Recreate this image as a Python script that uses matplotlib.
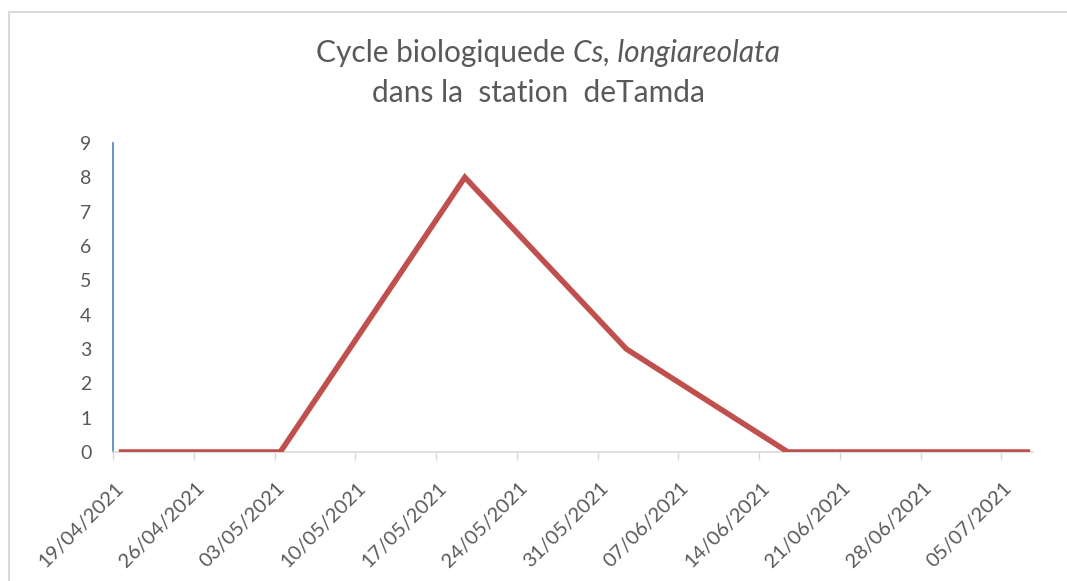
import matplotlib
matplotlib.use("Agg")
import matplotlib.pyplot as plt
import matplotlib.dates as mdates
from matplotlib.transforms import ScaledTranslation
from matplotlib.patches import Rectangle
from datetime import datetime

# ---- data ----
dates = ["19/04/2021", "03/05/2021", "19/05/2021", "02/06/2021", "16/06/2021", "07/07/2021"]
values = [0, 0, 8, 3, 0, 0]
tick_labels = ["19/04/2021", "26/04/2021", "03/05/2021", "10/05/2021", "17/05/2021", "24/05/2021",
               "31/05/2021", "07/06/2021", "14/06/2021", "21/06/2021", "28/06/2021", "05/07/2021"]
y_ticks = [0, 1, 2, 3, 4, 5, 6, 7, 8, 9]
title_normal = "Cycle biologiquede "
title_italic = "Cs, longiareolata"
title_line2 = "dans la  station  deTamda"

plt.rcParams['font.family'] = ['Lato', 'DejaVu Sans']
TXT = "#595959"

fig = plt.figure(figsize=(10.67, 5.81), dpi=100)
ax = fig.add_axes([113/1067, (581-452)/581, (1033-113)/1067, (452-143)/581])

parse = lambda s: datetime.strptime(s, "%d/%m/%Y")
x = [mdates.date2num(parse(d)) + 0.5 for d in dates]  # Excel centres points in the day
ax.plot(x, values, color="#C0504D", lw=4.0, solid_capstyle="butt", solid_joinstyle="miter", zorder=3)

ticks = [mdates.date2num(parse(t)) for t in tick_labels]
ax.set_xticks(ticks)
ax.set_xticklabels([])
lab_tr = ax.get_xaxis_transform() + ScaledTranslation(0.08, -0.33, fig.dpi_scale_trans)
for t, lab in zip(ticks, tick_labels):
    ax.text(t, 0, lab, transform=lab_tr, rotation=45, ha="right", va="center",
            rotation_mode="anchor", fontsize=14.5, color=TXT, clip_on=False)
ax.set_xlim(mdates.date2num(parse("19/04/2021")), mdates.date2num(parse("07/07/2021")) + 0.75)
ax.set_ylim(0, 9)
ax.set_yticks(y_ticks)
ax.set_yticklabels([str(v) for v in y_ticks], fontsize=14, color=TXT)
ax.tick_params(axis="y", length=0, pad=15.5)
ax.tick_params(axis="x", length=6, width=1, color="#D9D9D9", pad=2)

for s in ["top", "right"]:
    ax.spines[s].set_visible(False)
ax.spines["left"].set_color("#4F81BD")
ax.spines["left"].set_linewidth(1.2)
ax.spines["bottom"].set_color("#D9D9D9")
ax.spines["bottom"].set_linewidth(1.2)

# chart border
fig.patches.append(Rectangle((8.5/1067, -0.05), 1.1, (581-11.5)/581 + 0.05, transform=fig.transFigure,
                             fill=False, edgecolor="#D9D9D9", lw=1.5))

# title with mixed italic
fig.canvas.draw()
r = fig.canvas.get_renderer()
ty1 = 1 - 53/581
t1 = fig.text(0, ty1, title_normal, fontsize=21.5, color=TXT, va="center", ha="left")
t2 = fig.text(0, ty1, title_italic, fontsize=21.5, color=TXT, va="center", ha="left", style="italic")
w1 = t1.get_window_extent(r).width
w2 = t2.get_window_extent(r).width
total = w1 + w2
x0 = (548 - total / 2) / 1067
t1.set_x(x0)
t2.set_x(x0 + w1 / 1067)
fig.text(539/1067, 1 - 93/581, title_line2, fontsize=21.5, color=TXT, va="center", ha="center")

fig.savefig("out.png", dpi=100)
